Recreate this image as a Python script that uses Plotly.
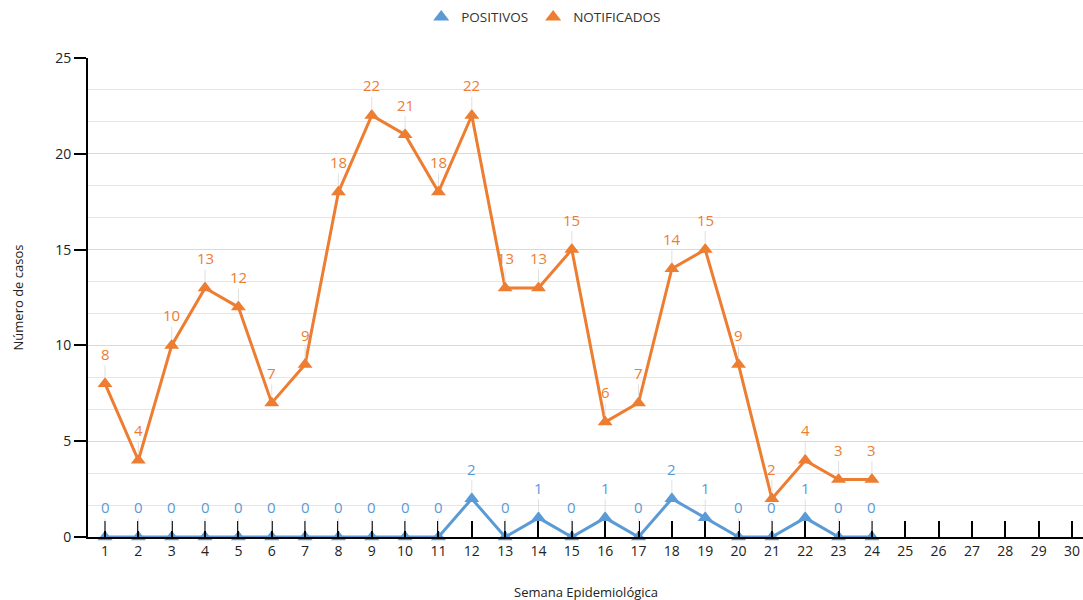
import plotly.graph_objects as go

semanas = list(range(1, 31))
semanas_datos = list(range(1, 25))
positivos = [0, 0, 0, 0, 0, 0, 0, 0, 0, 0, 0, 2, 0, 1, 0, 1, 0, 2, 1, 0, 0, 1, 0, 0]
notificados = [8, 4, 10, 13, 12, 7, 9, 18, 22, 21, 18, 22, 13, 13, 15, 6, 7, 14, 15, 9, 2, 4, 3, 3]

AZUL = "#5B9BD5"
NARANJA = "#ED7D31"
FONT = "Open Sans"

fig = go.Figure()
for nombre, serie, color in (("POSITIVOS", positivos, AZUL), ("NOTIFICADOS", notificados, NARANJA)):
    fig.add_trace(go.Scatter(
        x=semanas_datos, y=serie, name=nombre, mode="lines+markers",
        line=dict(color=color, width=3),
        marker=dict(symbol="triangle-up", size=13, color=color),
        cliponaxis=False, showlegend=False,
    ))
    # legend entry showing only the marker
    fig.add_trace(go.Scatter(
        x=[None], y=[None], name=nombre, mode="markers",
        marker=dict(symbol="triangle-up", size=14, color=color),
        showlegend=True,
    ))

annotations = []
for serie, color in ((positivos, AZUL), (notificados, NARANJA)):
    for x, y in zip(semanas_datos, serie):
        annotations.append(dict(
            x=x, y=y, xref="x", yref="y", text=str(y),
            showarrow=True, arrowhead=0, arrowwidth=1, arrowcolor="#E0E0E0",
            ax=0, ay=-30, standoff=6,
            font=dict(family=FONT, size=15, color=color),
        ))

annotations.append(dict(
    x=0.5, y=-0.115, xref="paper", yref="paper", yanchor="middle", xanchor="center",
    text="Semana Epidemiológica", showarrow=False,
    font=dict(family=FONT, size=13, color="#222"),
))
annotations.append(dict(
    x=-0.0704, y=0.5, xref="paper", yref="paper", xanchor="center", yanchor="middle",
    text="Número de casos", showarrow=False, textangle=-90,
    font=dict(family=FONT, size=13, color="#222"),
))

fig.update_layout(
    width=1083, height=600,
    margin=dict(l=88, r=0, t=58, b=63, autoexpand=False),
    plot_bgcolor="white", paper_bgcolor="white",
    font=dict(family=FONT, size=14, color="#222"),
    showlegend=True,
    legend=dict(orientation="h", x=0.458, xanchor="center", y=0.997, yanchor="top",
                yref="container", font=dict(family=FONT, size=13.5, color="#333"),
                itemwidth=30, tracegroupgap=0),
    annotations=annotations,
    xaxis=dict(
        range=[0.49, 30.33], tickmode="array", tickvals=semanas,
        ticktext=[str(s) for s in semanas],
        showgrid=False, zeroline=False, automargin=False,
        showline=True, linecolor="black", linewidth=2,
        ticks="inside", ticklen=16, tickcolor="black", tickwidth=1.5,
        tickfont=dict(family=FONT, size=14, color="#222"),
    ),
    yaxis=dict(
        range=[0, 25], dtick=5, tick0=0, automargin=False,
        showgrid=True, gridcolor="#D9D9D9", gridwidth=1,
        minor=dict(dtick=5/3, tick0=0, showgrid=True, gridcolor="#E6E6E6", gridwidth=1),
        zeroline=False,
        showline=True, linecolor="black", linewidth=2,
        ticks="outside", ticklen=12, tickcolor="black", tickwidth=1.5,
        tickfont=dict(family=FONT, size=14, color="#222"),
    ),
)

fig.write_html("out.html", config={"displayModeBar": False},
               post_script="document.body.style.margin='0';")
